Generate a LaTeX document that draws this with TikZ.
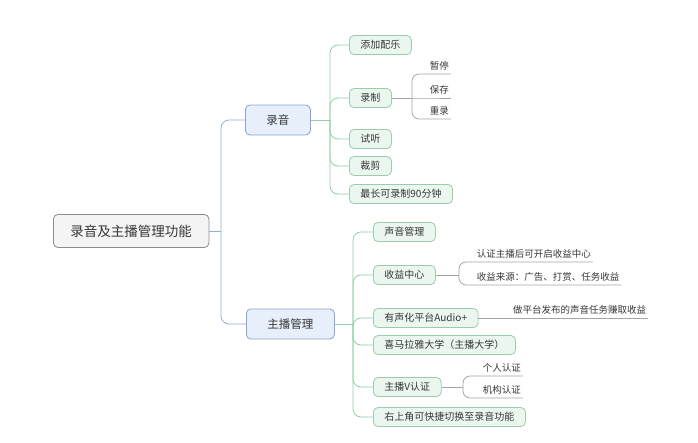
\documentclass[tikz,border=0pt]{standalone}
\usepackage{fontspec}
\setmainfont{Noto Sans CJK SC}
\usepackage{tikz}
\definecolor{node_gray}{RGB}{140,140,140}
\definecolor{fill_gray}{RGB}{244,244,244}
\definecolor{node_blue}{RGB}{135,165,210}
\definecolor{fill_blue}{RGB}{230,239,250}
\definecolor{edge_blue}{RGB}{140,175,215}
\definecolor{node_green}{RGB}{155,205,172}
\definecolor{fill_green}{RGB}{235,246,239}
\definecolor{edge_green}{RGB}{145,205,165}
\definecolor{edge_gray}{RGB}{165,165,165}
\definecolor{text_gray}{RGB}{55,55,55}

\begin{document}
\begin{tikzpicture}[x=1pt,y=-1pt,line width=0.8pt]
    \tikzstyle{box}=[rounded corners=4.5pt, text=text_gray, anchor=west, inner ysep=0pt]
    \tikzstyle{top}=[style=box, draw=node_gray, fill=fill_gray, minimum height=33pt, inner xsep=17pt, font=\fontsize{13.5}{14}\selectfont]
    \tikzstyle{lone}=[style=box, draw=node_blue, fill=fill_blue, minimum height=30pt, inner xsep=21pt, font=\fontsize{11.5}{12}\selectfont]
    \tikzstyle{ltwo}=[style=box, draw=node_green, fill=fill_green, minimum height=19pt, inner xsep=11pt, font=\fontsize{10}{11}\selectfont]
    \tikzstyle{leaf}=[text=text_gray, anchor=south west, inner xsep=1.5pt, inner ysep=3pt, font=\fontsize{9.5}{10}\selectfont]

    \useasboundingbox (0,0) rectangle (698,442);

    % root and main branches
    \node[top]  (root) at (53,231)  {录音及主播管理功能};
    \node[lone] (rec)  at (245,120) {录音};
    \node[lone] (host) at (246,324) {主播管理};

    % recording
    \node[ltwo] (mus)  at (349,45)  {添加配乐};
    \node[ltwo] (rcd)  at (349,98)  {录制};
    \node[ltwo] (lis)  at (349,139) {试听};
    \node[ltwo] (cut)  at (349,166) {裁剪};
    \node[ltwo] (lim)  at (349,194) {最长可录制90分钟};
    \node[leaf] (stop) at (428,74)  {暂停};
    \node[leaf] (save) at (428,98)  {保存};
    \node[leaf] (redo) at (428,119) {重录};

    % host management
    \node[ltwo] (snd)  at (373,232) {声音管理};
    \node[ltwo] (inc)  at (373,275) {收益中心};
    \node[ltwo] (aud)  at (373,318) {有声化平台Audio+};
    \node[ltwo] (uni)  at (373,345) {喜马拉雅大学（主播大学）};
    \node[ltwo] (vc)   at (373,387) {主播V认证};
    \node[ltwo] (sw)   at (373,417) {右上角可快捷切换至录音功能};
    \node[leaf] (cert) at (475,262) {认证主播后可开启收益中心};
    \node[leaf] (src)  at (475,285) {收益来源：广告、打赏、任务收益};
    \node[leaf, anchor=south east] (task) at (648,318) {做平台发布的声音任务赚取收益};
    \node[leaf] (pers) at (481,376) {个人认证};
    \node[leaf] (org)  at (481,398) {机构认证};

    \coordinate (t0) at (221,231);
    \coordinate (t1) at (330,120);
    \coordinate (t2) at (353,324);
    \coordinate (k1) at (412,98);
    \coordinate (k2) at (459,275);
    \coordinate (k3) at (463,387);

    \draw[edge_blue] (root.east) -- (t0);
    \draw[edge_blue, rounded corners=8pt] (t0) |- (rec.west);
    \draw[edge_blue, rounded corners=8pt] (t0) |- (host.west);

    \draw[edge_green] (rec.east) -- (t1);
    \foreach \c in {mus,rcd,lis,cut,lim}
      \draw[edge_green, rounded corners=8pt] (t1) |- (\c.west);
    \draw[edge_green] (host.east) -- (t2);
    \foreach \c in {snd,inc,aud,uni,vc,sw}
      \draw[edge_green, rounded corners=8pt] (t2) |- (\c.west);

    \draw[edge_gray] (rcd.east) -- (k1);
    \draw[edge_gray, rounded corners=7pt] (k1) |- (stop.south west) -- (stop.south east);
    \draw[edge_gray] (k1) -- (save.south west) -- (save.south east);
    \draw[edge_gray, rounded corners=7pt] (k1) |- (redo.south west) -- (redo.south east);

    \draw[edge_gray] (inc.east) -- (k2);
    \draw[edge_gray, rounded corners=7pt] (k2) |- (cert.south west) -- (cert.south east);
    \draw[edge_gray, rounded corners=7pt] (k2) |- (src.south west) -- (src.south east);
    \draw[edge_gray] (aud.east) -- (task.south east);
    \draw[edge_gray] (vc.east) -- (k3);
    \draw[edge_gray, rounded corners=7pt] (k3) |- (pers.south west) -- (pers.south east);
    \draw[edge_gray, rounded corners=7pt] (k3) |- (org.south west) -- (org.south east);
  \end{tikzpicture}
\end{document}
